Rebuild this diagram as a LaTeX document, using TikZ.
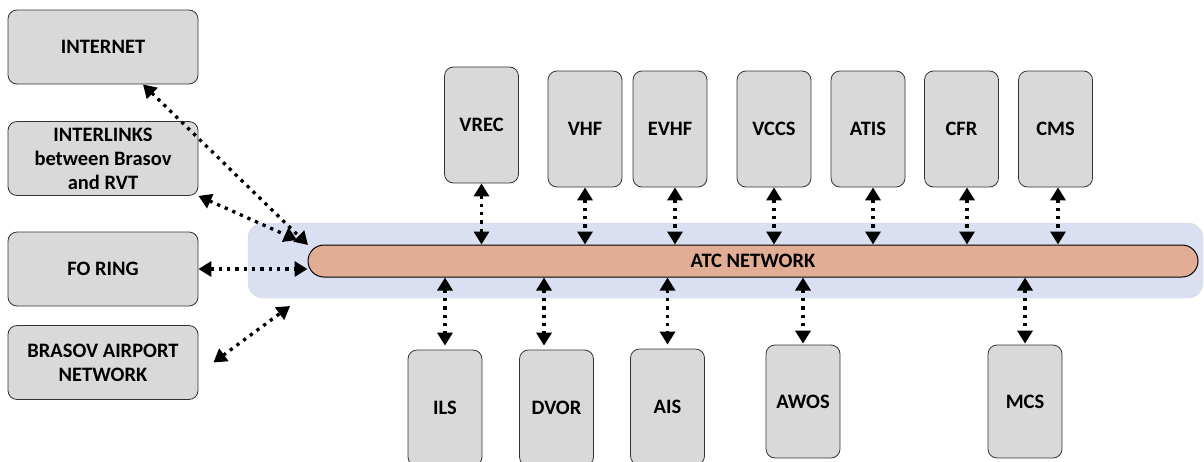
\documentclass[tikz,border=0pt]{standalone}
\usepackage{fontspec}
\setmainfont{Carlito}
\usetikzlibrary{arrows.meta}
\definecolor{boxgray}{RGB}{217,217,217}
\definecolor{bandblue}{RGB}{218,224,242}
\definecolor{pillorange}{RGB}{225,174,149}
\begin{document}
\begin{tikzpicture}[x=1pt,y=-1pt,
  unit/.style={draw=black!80,fill=boxgray,rounded corners=9pt,line width=0.8pt,align=center,
    font=\fontsize{20.5}{24}\selectfont\bfseries,inner sep=2pt},
  sidebox/.style={unit,minimum width=190pt,minimum height=74pt},
  upbox/.style={unit,minimum width=74pt,minimum height=116pt},
  lowbox/.style={unit,minimum width=74pt,minimum height=113pt},
  link/.style={line width=3.3pt,dash pattern=on 3.3pt off 5pt,
    {Triangle[width=15pt,length=13pt]}-{Triangle[width=15pt,length=13pt]}}]
\useasboundingbox (0,0) rectangle (1204,461);
\clip (0,0) rectangle (1204,461);
\node[sidebox] (internet) at (103,47) {INTERNET};
\node[sidebox] (interlinks) at (103,158.5) {INTERLINKS\\between Brasov\\and RVT};
\node[sidebox] (foring) at (103,269) {FO RING};
\node[sidebox] (brasov) at (103,362.5) {BRASOV AIRPORT\\NETWORK};
\node[draw=black!15,fill=bandblue,rounded corners=15pt,minimum width=955pt,minimum height=75pt] (band) at (725.5,260.5) {};
\node[draw=black,fill=pillorange,rounded corners=16pt,line width=1pt,minimum width=890pt,minimum height=32pt,
  font=\fontsize{20.5}{24}\selectfont\bfseries,inner sep=0pt] (atc) at (753,261) {ATC NETWORK};
\node[upbox] (vrec) at (481.5,125) {VREC};
\node[upbox] (vhf) at (585,129) {VHF};
\node[upbox] (evhf) at (670,129) {EVHF};
\node[upbox] (vccs) at (774,129) {VCCS};
\node[upbox] (atis) at (868,129) {ATIS};
\node[upbox] (cfr) at (961.5,129) {CFR};
\node[upbox] (cms) at (1055.5,129) {CMS};
\node[lowbox,minimum height=116pt] (ils) at (445,408) {ILS};
\node[lowbox,minimum height=116pt] (dvor) at (556.5,408) {DVOR};
\node[lowbox,minimum height=116pt] (ais) at (667.5,407) {AIS};
\node[lowbox] (awos) at (803,401.5) {AWOS};
\node[lowbox] (mcs) at (1025,401.5) {MCS};
\coordinate (hubA) at (308,245);
\coordinate (hubB) at (297,240);
\coordinate (hubC) at (290,306);
\draw[link] ([xshift=40pt]internet.south) -- (hubA);
\draw[link] (interlinks.south east) -- (hubB);
\draw[link] (foring.east) -- (foring.east -| atc.west);
\draw[link] ([xshift=15pt]brasov.east) -- (hubC);
\draw[link] (vrec.south) -- (vrec.south |- atc.north);
\draw[link] (vhf.south) -- (vhf.south |- atc.north);
\draw[link] ([xshift=5pt]evhf.south) -- ([xshift=5pt]evhf.south |- atc.north);
\draw[link] (vccs.south) -- (vccs.south |- atc.north);
\draw[link] ([xshift=5pt]atis.south) -- ([xshift=5pt]atis.south |- atc.north);
\draw[link] ([xshift=5.5pt]cfr.south) -- ([xshift=5.5pt]cfr.south |- atc.north);
\draw[link] ([xshift=2.5pt]cms.south) -- ([xshift=2.5pt]cms.south |- atc.north);
\draw[link] (atc.south -| ils.north) -- ([yshift=4pt]ils.north);
\draw[link] (atc.south -| dvor.north) ++(-12.5,0) -- ([xshift=-12.5pt,yshift=4pt]dvor.north);
\draw[link] (atc.south -| ais.north) -- ([yshift=4pt]ais.north);
\draw[link] (atc.south -| awos.north) -- ([yshift=1pt]awos.north);
\draw[link] (atc.south -| mcs.north) -- ([yshift=1pt]mcs.north);
\end{tikzpicture}
\end{document}
